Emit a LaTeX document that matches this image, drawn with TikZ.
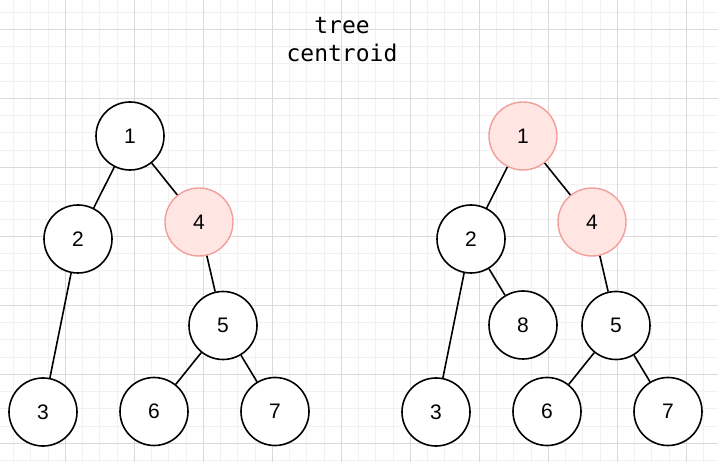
\documentclass[tikz,border=0pt]{standalone}
\usepackage{fontspec}
\setmainfont{Liberation Sans}
\newfontfamily\titlefont{DejaVu Sans Mono}
\usepackage{tikz}
\definecolor{hlfill}{HTML}{FFE6E2}
\definecolor{hlline}{HTML}{F29F9B}
\definecolor{majorgray}{HTML}{DADADA}
\definecolor{minorgray}{HTML}{F1F1F1}
\tikzstyle{vertex} = [circle, minimum size=68pt, inner sep=0pt, draw=black, line width=1.6pt, fill=white, font=\fontsize{21}{25}\selectfont]
\tikzstyle{centroid} = [vertex, draw=hlline, fill=hlfill, line width=1.4pt]
\tikzstyle{edge} = [line width=1.6pt, -]
\tikzstyle{minorline} = [minorgray, line width=0.8pt]
\tikzstyle{majorline} = [majorgray, line width=0.9pt]
\begin{document}
\begin{tikzpicture}[x=1pt, y=-1pt, node distance=86pt]
  \useasboundingbox (0,0) rectangle (718,462);
  \fill [white] (0,0) rectangle (718,462);

  % background grid
  \foreach \i in {0,...,40} \draw [minorline] ({13.55+17.25*\i},0) -- ({13.55+17.25*\i},462);
  \foreach \i in {0,...,26} \draw [minorline] (0,{12.05+17.25*\i}) -- (718,{12.05+17.25*\i});
  \foreach \i in {0,...,9} \draw [majorline] ({65.3+69*\i},0) -- ({65.3+69*\i},462);
  \foreach \i in {0,...,6} \draw [majorline] (0,{29.3+69*\i}) -- (718,{29.3+69*\i});

  \node (title) [align=center, font=\titlefont\fontsize{23}{28}\selectfont, anchor=base] at (342,61.5) {tree\\centroid};

  % left tree
  \node (l1) [vertex] at (130,136) {1};
  \node (l2) [vertex, below of=l1, xshift=-52pt, yshift=-17pt] {2};
  \node (l4) [centroid, below of=l1, xshift=69pt] {4};
  \node (l5) [vertex, below of=l4, xshift=24pt, yshift=-17.5pt] {5};
  \node (l3) [vertex, below of=l2, xshift=-35pt, yshift=-87pt] {3};
  \node (l6) [vertex, below of=l5, xshift=-69pt] {6};
  \node (l7) [vertex, below of=l5, xshift=52pt] {7};

  \draw [edge] (l1) -- (l2);
  \draw [edge] (l1) -- (l4);
  \draw [edge] (l2) -- (l3);
  \draw [edge] (l4) -- (l5);
  \draw [edge] (l5) -- (l6);
  \draw [edge] (l5) -- (l7);

  % right tree
  \node (r1) [centroid] at (523,136) {1};
  \node (r2) [vertex, below of=r1, xshift=-52pt, yshift=-17pt] {2};
  \node (r4) [centroid, below of=r1, xshift=69pt] {4};
  \node (r8) [vertex, below of=r2, xshift=52pt] {8};
  \node (r5) [vertex, below of=r4, xshift=24pt, yshift=-17.5pt] {5};
  \node (r3) [vertex, below of=r2, xshift=-35pt, yshift=-87pt] {3};
  \node (r6) [vertex, below of=r5, xshift=-69pt] {6};
  \node (r7) [vertex, below of=r5, xshift=52pt] {7};

  \draw [edge] (r1) -- (r2);
  \draw [edge] (r1) -- (r4);
  \draw [edge] (r2) -- (r3);
  \draw [edge] (r2) -- (r8);
  \draw [edge] (r4) -- (r5);
  \draw [edge] (r5) -- (r6);
  \draw [edge] (r5) -- (r7);

\end{tikzpicture}
\end{document}
